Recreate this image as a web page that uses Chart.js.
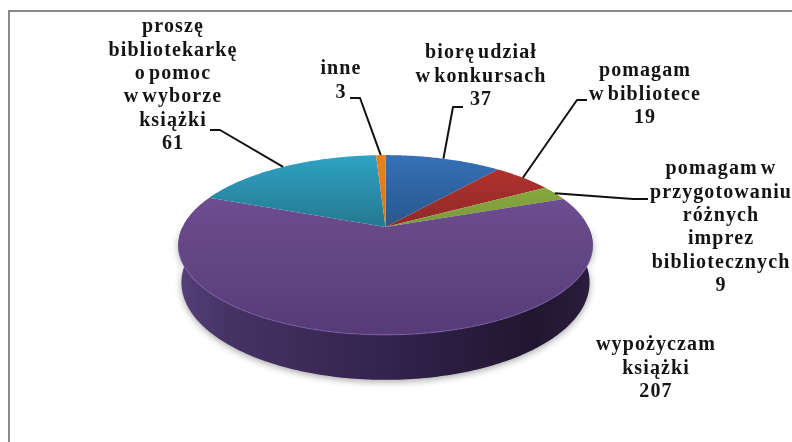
<!DOCTYPE html>
<html><head><meta charset="utf-8">
<style>html,body{margin:0;padding:0;background:#fff;overflow:hidden}canvas{display:block}</style>
<script src="https://cdn.jsdelivr.net/npm/chart.js@4"></script></head>
<body><canvas id="c" width="792" height="442"></canvas>
<script>
const categories = ["bior\u0119 udzia\u0142|w konkursach","pomagam|w bibliotece","pomagam w|przygotowaniu|r\u00f3\u017cnych|imprez|bibliotecznych","wypo\u017cyczam|ksi\u0105\u017cki","prosz\u0119|bibliotekark\u0119|o pomoc|w wyborze|ksi\u0105\u017cki","inne"];
const values = [37,19,9,207,61,3];
const lightColors = ["#3670b8","#b8332e","#90b33f","#6c4d8f","#2fa3c4","#e8821f"];
const darkColors  = ["#265688","#8c2927","#78983a","#563b78","#24758d","#d9741c"];
const labelCenters = [[481,53],[645,71],[721,169],[656,345],[173,27],[341,69]];
const leaderElbows = [[[463,107],[453,107]],[[587,100],[577,100]],[[648,199],[633,199]],null,[[210,130],[220,130]],[[350,98],[360,98]]];

const persp = 0.2, squash = 0.425;
function project(a, x0, y0, R){
  const u = Math.cos(a), v = Math.sin(a), d = 1 - persp*v;
  return [x0 + R*u/d, y0 + squash*R*v/d, v, d];
}
const pie3d = {
  id:'pie3d',
  beforeDraw(chart){
    const ctx = chart.ctx;
    ctx.save();
    ctx.fillStyle='#fff'; ctx.fillRect(0,0,792,442);
    ctx.strokeStyle='#8a8a8a'; ctx.lineWidth=2;
    ctx.beginPath(); ctx.moveTo(793,11); ctx.lineTo(9,11); ctx.lineTo(9,443); ctx.stroke();
    ctx.restore();
  },
  beforeDatasetsDraw(chart){
    const ctx = chart.ctx, arcs = chart.getDatasetMeta(0).data;
    const {x:x0,y:y0,outerRadius:R} = arcs[0];
    const N = 360, wall = [], top = [];
    for(let i=0;i<=N;i++){
      const a = i/N*2*Math.PI, p = project(a,x0,y0,R);
      top.push(p);
      if(i<=180) wall.push(p);
    }
    const depth = d => 36/d;
    ctx.save();
    const sg = ctx.createLinearGradient(178,0,593,0);
    sg.addColorStop(0,'#55407a'); sg.addColorStop(.12,'#463263');
    sg.addColorStop(.5,'#32234f'); sg.addColorStop(.85,'#21162f'); sg.addColorStop(1,'#2a1d3e');
    ctx.shadowColor='rgba(0,0,0,.35)'; ctx.shadowBlur=7; ctx.shadowOffsetY=2;
    ctx.beginPath();
    wall.forEach((p,i)=>{ const X=x0+(p[0]-x0)*.985, Y=p[1]+depth(p[3]); i?ctx.lineTo(X,Y):ctx.moveTo(X,Y); });
    for(let i=wall.length-1;i>=0;i--) ctx.lineTo(wall[i][0],wall[i][1]);
    ctx.closePath(); ctx.fillStyle=sg; ctx.fill();
    ctx.restore();
    arcs.forEach((arc,i)=>{
      const steps = Math.max(4,Math.round((arc.endAngle-arc.startAngle)*90));
      ctx.beginPath(); ctx.moveTo(arc.x,arc.y);
      for(let s=0;s<=steps;s++){
        const p = project(arc.startAngle+(arc.endAngle-arc.startAngle)*s/steps,x0,y0,R);
        ctx.lineTo(p[0],p[1]);
      }
      ctx.closePath();
      const big = values[i]===Math.max(...values);
      const g = ctx.createLinearGradient(0,big?200:155,0,big?335:232);
      g.addColorStop(0,lightColors[i]); g.addColorStop(1,darkColors[i]);
      ctx.fillStyle=g; ctx.fill();
    });
    ctx.save();
    ctx.strokeStyle='rgba(125,95,170,.6)'; ctx.lineWidth=1.2;
    ctx.beginPath();
    for(let i=12;i<=168;i++){ const p=top[i]; i===12?ctx.moveTo(p[0],p[1]):ctx.lineTo(p[0],p[1]); }
    ctx.stroke(); ctx.restore();
    return false;
  },
  afterDraw(chart){
    const ctx = chart.ctx, arcs = chart.getDatasetMeta(0).data;
    const {x:x0,y:y0,outerRadius:R} = arcs[0];
    ctx.save();
    ctx.strokeStyle='#111'; ctx.lineWidth=2; ctx.lineJoin='round';
    arcs.forEach((arc,i)=>{
      if(!leaderElbows[i]) return;
      const p = project((arc.startAngle+arc.endAngle)/2,x0,y0,R);
      ctx.beginPath();
      ctx.moveTo(...leaderElbows[i][0]); ctx.lineTo(...leaderElbows[i][1]); ctx.lineTo(p[0],p[1]);
      ctx.stroke();
    });
    ctx.fillStyle='#141414'; ctx.textAlign='center'; ctx.textBaseline='middle';
    ctx.font='bold 20px "Liberation Serif"'; ctx.letterSpacing='1.1px'; ctx.wordSpacing='-3px';
    categories.forEach((c,i)=>{
      const lines = c.split('|').concat(String(values[i]));
      lines.forEach((t,k)=>ctx.fillText(t,labelCenters[i][0],labelCenters[i][1]+k*23.4));
    });
    ctx.restore();
  }
};
new Chart(document.getElementById('c'),{
  type:'pie',
  data:{labels:categories.map(c=>c.replace(/\|/g,' ')),datasets:[{data:values,backgroundColor:lightColors,borderWidth:0}]},
  options:{
    responsive:false,animation:false,
    layout:{padding:{left:182,right:203,top:24,bottom:12}},
    plugins:{legend:{display:false},tooltip:{enabled:false}}
  },
  plugins:[pie3d]
});
</script></body></html>
